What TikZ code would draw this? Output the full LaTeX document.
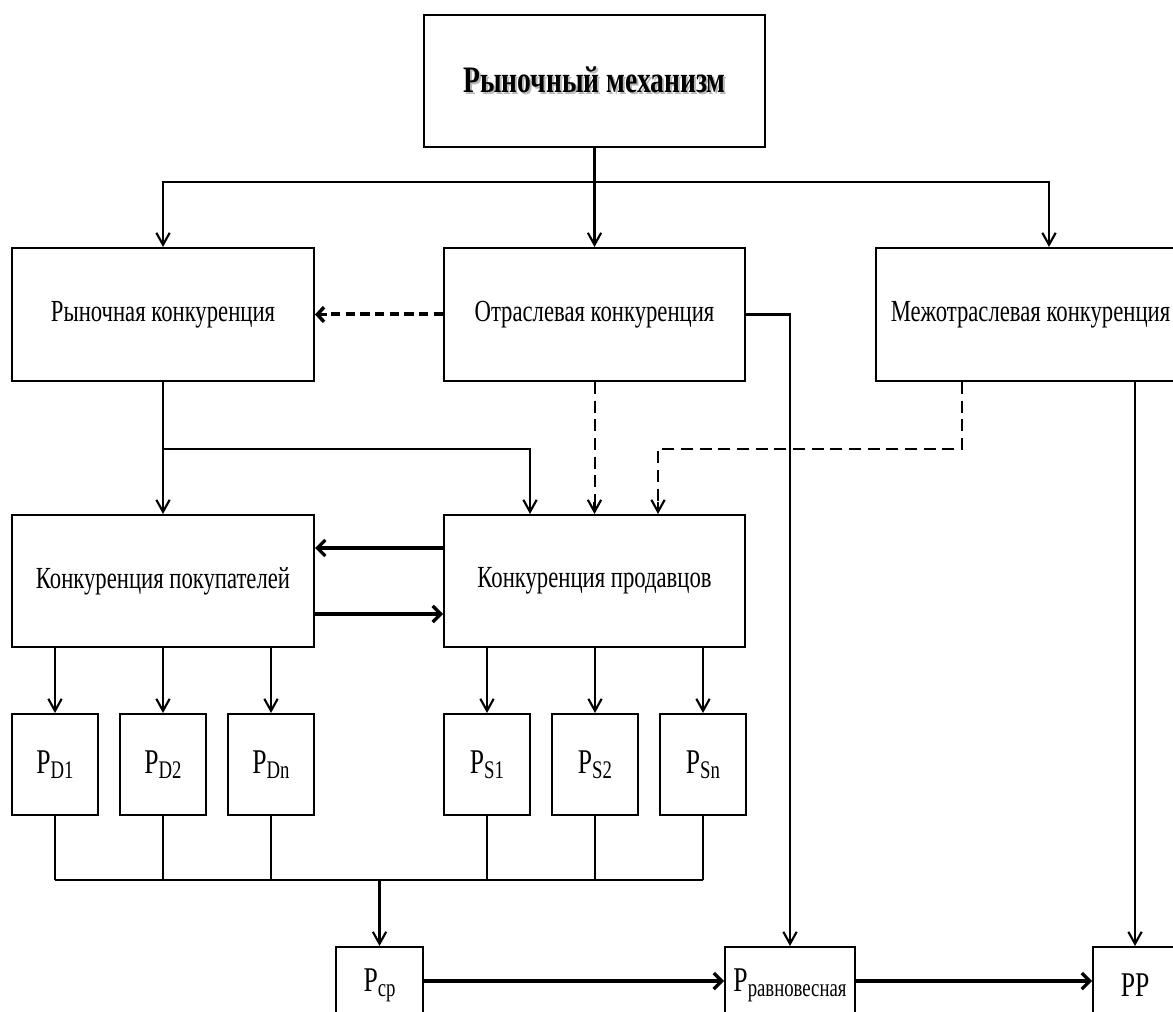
\documentclass[tikz,border=0pt]{standalone}
\usepackage{fontspec}
\setmainfont[FakeStretch=0.74]{Liberation Serif}
\usetikzlibrary{arrows.meta}
\newcommand\Psb[1]{P\raisebox{-0.32ex}{\fontsize{19}{19}\selectfont #1}}
\tikzset{
  box/.style 2 args={draw, line width=1.5pt, inner sep=0pt, minimum width=#1*0.75pt, minimum height=#2*0.75pt},
  txt/.style={font=\fontsize{23}{26}\selectfont},
  ptxt/.style={font=\fontsize{26}{30}\selectfont},
  ln/.style={line width=1.6pt},
  arr/.style={line width=1.6pt, -{Straight Barb[length=9pt,width=10pt]}},
  bigarr/.style={line width=3pt, -{Straight Barb[length=6pt,width=12pt,line width=2.4pt]}},
  dshbig/.style={line width=3pt, dash pattern=on 7pt off 4pt},
  dshthin/.style={line width=1.5pt, dash pattern=on 9pt off 5pt},
  busv/.style={line width=0.9pt},
  bush/.style={line width=1.8pt}
}
\begin{document}
\begin{tikzpicture}[x=0.75pt,y=-0.75pt]
\useasboundingbox (0,0) rectangle (1173,1012);
\clip (0,0) rectangle (1173,1012);
% nodes
\node[box={341}{132}, font=\bfseries\fontsize{28}{32}\selectfont] (top) at (594.5,81)
  {\rlap{\kern1.5pt\raisebox{-1.5pt}{\color{black!28}Рыночный механизм}}Рыночный механизм};
\node[box={302}{133}, txt] (rk) at (163,314.5) {\raisebox{-2pt}{Рыночная конкуренция}};
\node[box={301}{133}, txt] (ok) at (594.5,314.5) {\raisebox{-2pt}{Отраслевая конкуренция}};
\node[box={309}{133}, txt] (mk) at (1030.5,314.5) {\raisebox{-2pt}{Межотраслевая конкуренция}};
\node[box={302}{132}, txt] (kp) at (163,581) {\raisebox{-2pt}{Конкуренция покупателей}};
\node[box={301}{132}, txt] (ks) at (594.5,581) {\raisebox{-2pt}{Конкуренция продавцов}};
\node[box={86}{101}, ptxt] (pd1) at (55,764.5) {\Psb{D1}};
\node[box={86}{101}, ptxt] (pd2) at (163,764.5) {\Psb{D2}};
\node[box={86}{101}, ptxt] (pdn) at (271,764.5) {\Psb{Dn}};
\node[box={86}{101}, ptxt] (ps1) at (487,764.5) {\Psb{S1}};
\node[box={86}{101}, ptxt] (ps2) at (595,764.5) {\Psb{S2}};
\node[box={86}{101}, ptxt] (psn) at (703,764.5) {\Psb{Sn}};
\node[box={87}{76}, ptxt] (pcp) at (379.5,985) {\Psb{ср}};
\node[box={130}{76}, ptxt] (peq) at (790,985) {\Psb{равновесная}};
\node[box={84}{76}, ptxt] (pp) at (1135,985) {PP};
% coordinates
\coordinate (j0) at (594.5,182);
\coordinate (jm) at (1049,182);
\coordinate (d1) at (962,449);
\coordinate (d2) at (658,449);
\coordinate (r2) at (530,449);
\coordinate (bus) at (379.5,880);
% top distribution
\draw[ln] (top.south) -- (j0);
\draw[arr] (j0) -| (rk.north);
\draw[arr] (j0) -- (jm) -- (jm |- mk.north);
\draw[arr] (j0) -- (ok.north);
% dashed
\draw[dshbig] (ok.west) -- ([xshift=9pt]rk.east);
\draw[line width=2.6pt, -{Straight Barb[length=5pt,width=11pt]}] ([xshift=9pt]rk.east) -- (rk.east);
\draw[dshthin] (ok.south) -- ([yshift=9pt]ok.south |- ks.north);
\draw[arr] ([yshift=9pt]ok.south |- ks.north) -- (ks.north);
\draw[dshthin] (mk.south -| d1) -- (d1) -- (d2) -- ([yshift=9pt]d2 |- ks.north);
\draw[arr] ([yshift=9pt]d2 |- ks.north) -- (d2 |- ks.north);
% solid long
\draw[arr] (ok.east) -| (peq.north);
\draw[arr] (pp.north |- mk.south) -- (pp.north);
% market competition down
\draw[arr] (rk.south) -- (kp.north);
\draw[arr] (rk.south |- d1) -- (r2) -- (r2 |- ks.north);
% between kp and ks
\draw[bigarr] ([yshift=24.75pt]ks.west) -- ([yshift=24.75pt]kp.east);
\draw[bigarr] ([yshift=-24.75pt]kp.east) -- ([yshift=-24.75pt]ks.west);
% to small boxes
\foreach \b in {pd1,pd2,pdn}{\draw[arr] (kp.south -| \b.north) -- (\b.north);}
\foreach \b in {ps1,ps2,psn}{\draw[arr] (ks.south -| \b.north) -- (\b.north);}
% bus
\foreach \b in {pd1,pd2,pdn,ps1,ps2,psn}{\draw[busv] (\b.south) -- (\b.south |- bus);}
\draw[bush] (pd1.south |- bus) -- (psn.south |- bus);
\draw[arr] (bus) -- (pcp.north);
% bottom row
\draw[bigarr] ([yshift=3pt]pcp.east) -- ([yshift=3pt]peq.west);
\draw[bigarr] ([yshift=3pt]peq.east) -- ([yshift=3pt]pp.west);
\end{tikzpicture}
\end{document}
